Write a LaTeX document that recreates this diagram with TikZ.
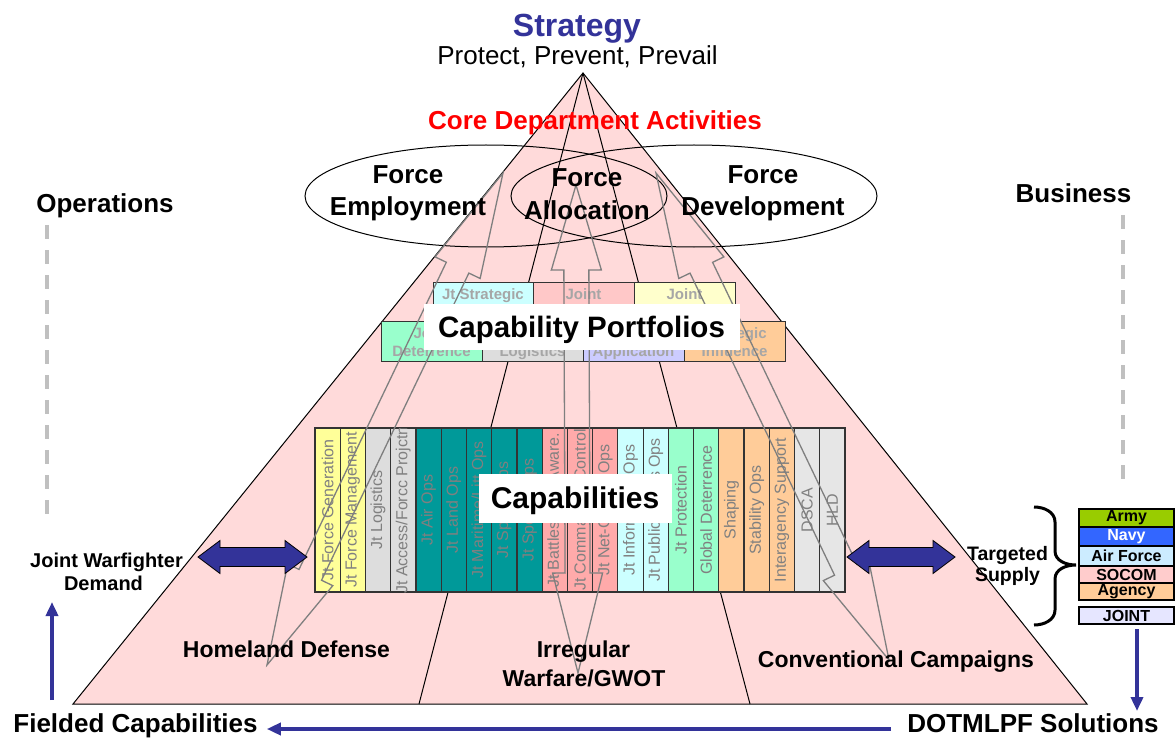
\documentclass[tikz,border=0pt]{standalone}
\usepackage{fontspec}
\setmainfont{Liberation Sans}
\usetikzlibrary{calc,arrows.meta,shapes.geometric}
\definecolor{stratblue}{HTML}{333399}
\definecolor{pyrpink}{HTML}{FFDADA}
\definecolor{tealbar}{HTML}{009999}
\definecolor{yelbar}{HTML}{FFFF99}
\definecolor{graybar}{HTML}{DDDDDD}
\definecolor{pinkbar}{HTML}{FFAAAA}
\definecolor{cyanbar}{HTML}{CCFFFF}
\definecolor{greenbar}{HTML}{99FFCC}
\definecolor{orangebar}{HTML}{FFCC99}
\definecolor{gray2bar}{HTML}{E6E6E6}
\definecolor{pfpink}{HTML}{FFC8C8}
\definecolor{pfyellow}{HTML}{FFFFCC}
\definecolor{pflav}{HTML}{CCCCFF}
\definecolor{armygreen}{HTML}{99CC00}
\definecolor{navyblue}{HTML}{3366FF}
\definecolor{afblue}{HTML}{CCECFF}
\definecolor{socompink}{HTML}{FFCCCC}
\definecolor{jointlav}{HTML}{E6E6FF}
\definecolor{bartext}{HTML}{808080}
\definecolor{pftext}{HTML}{A6A6A6}
\definecolor{dashgray}{HTML}{C0C0C0}
\definecolor{boltgray}{HTML}{7F7F7F}
\newcommand{\FS}[1]{\fontsize{#1}{#1}\selectfont}
\newcommand{\CapBar}[3]{%
  \pgfmathsetmacro\bx{315+#1*25.24}
  \node[capbar, fill=#2] (cb#1) at (\bx+12.62,510) {};
  \begin{scope}
    \clip (\bx,428) rectangle (\bx+25.24,592);
    \node[bartxt] (cbt#1) at (\bx+12.62,510) {#3};
  \end{scope}
}
\newcommand{\GrayBolt}[5]{%
  \coordinate (#1T) at (#2);
  \coordinate (#1B) at (#3);
  \coordinate (#1h) at ($(#1T)!#4!(#1B)$);
  \coordinate (#1k) at ($(#1B)!#5!(#1T)$);
  \draw[boltline] (#1T)
    -- ($(#1h)!25pt!90:(#1B)$) -- ($(#1h)!12.5pt!90:(#1B)$)
    -- ($(#1k)!12.5pt!-90:(#1T)$) -- ($(#1k)!25pt!-90:(#1T)$)
    -- (#1B)
    -- ($(#1k)!25pt!90:(#1T)$) -- ($(#1k)!12.5pt!90:(#1T)$)
    -- ($(#1h)!12.5pt!-90:(#1B)$) -- ($(#1h)!25pt!-90:(#1B)$) -- cycle;
}
\begin{document}
\begin{tikzpicture}[x=1pt,y=-1pt,
  lbl/.style={inner sep=0pt, anchor=base, font=\bfseries\FS{26}},
  capbar/.style={rectangle, draw=black!80, line width=1.2pt, minimum width=25.24pt, minimum height=164pt, inner sep=0pt},
  bartxt/.style={rotate=90, inner sep=0pt, text=bartext, font=\FS{16}},
  pfbox/.style={rectangle, draw=black!80, line width=1.2pt, inner sep=0pt, anchor=north west},
  pftxt/.style={inner sep=0pt, anchor=base, text=pftext, font=\bfseries\FS{15}},
  whitebox/.style={rectangle, fill=white, inner sep=0pt},
  boltline/.style={draw=boltgray, line width=1.3pt, line join=miter},
  legbox/.style={rectangle, draw=black, line width=1.3pt, minimum width=95pt, inner sep=0pt, font=\bfseries\FS{16}},
  bluearr/.style={draw=stratblue, line width=4pt, -{Triangle[length=14pt,width=12pt]}},
  blockarr/.style={fill=stratblue, draw=black, line width=0.8pt},
  dashline/.style={draw=dashgray, line width=4pt, dash pattern=on 14pt off 11pt}
]
\useasboundingbox (0,0) rectangle (1175,738);

% pyramid
\coordinate (apex) at (583,73);
\coordinate (bl) at (73,704);
\coordinate (br) at (1087,704);
\coordinate (d1) at (419,704);
\coordinate (d2) at (750,704);
\draw[fill=pyrpink, line width=1pt] (apex) -- (bl) -- (br) -- cycle;
\draw[line width=1pt] (apex) -- (d1);
\draw[line width=1pt] (apex) -- (d2);

% ellipses
\node[ellipse, draw, line width=1pt, minimum width=362pt, minimum height=102pt, inner sep=0pt] (fe) at (486,196) {};
\node[ellipse, draw, line width=1pt, minimum width=366pt, minimum height=102pt, inner sep=0pt] (fd) at (694,196) {};

% capability portfolios
\node[pfbox, fill=cyanbar, minimum width=100pt, minimum height=39pt] (p1) at (433,282) {};
\node[pfbox, fill=pfpink, minimum width=101pt, minimum height=39pt] (p2) at (533,282) {};
\node[pfbox, fill=pfyellow, minimum width=101pt, minimum height=39pt] (p3) at (634,282) {};
\node[pftxt] (p1t) at (483,299) {Jt Strategic};
\node[pftxt] (p2t) at (583.5,299) {Joint};
\node[pftxt] (p3t) at (684.5,299) {Joint};
\node[pfbox, fill=greenbar, minimum width=101pt, minimum height=40pt] (q1) at (381,321) {};
\node[pfbox, fill=graybar, minimum width=101pt, minimum height=40pt] (q2) at (482,321) {};
\node[pfbox, fill=pflav, minimum width=101pt, minimum height=40pt] (q3) at (583,321) {};
\node[pfbox, fill=orangebar, minimum width=101pt, minimum height=40pt] (q4) at (684,321) {};
\node[pftxt] (q1a) at (431.5,338) {Joint};
\node[pftxt] (q1b) at (431.5,356) {Deterrence};
\node[pftxt] (q2b) at (532.5,356) {Logistics};
\node[pftxt] (q3b) at (633.5,356) {Application};
\node[pftxt] (q4a) at (734.5,338) {Strategic};
\node[pftxt] (q4b) at (734.5,356) {Influence};

% capability bars
\CapBar{0}{yelbar}{Jt Force Generation}
\CapBar{1}{yelbar}{Jt Force Management}
\CapBar{2}{graybar}{Jt Logistics}
\CapBar{3}{graybar}{Jt Access/Forcc Projctn}
\CapBar{4}{tealbar}{Jt Air Ops}
\CapBar{5}{tealbar}{Jt Land Ops}
\CapBar{6}{tealbar}{Jt Maritime/Litt Ops}
\CapBar{7}{tealbar}{Jt Space Ops}
\CapBar{8}{tealbar}{Jt Special Ops}
\CapBar{9}{pinkbar}{Jt Battlespace Aware.}
\CapBar{10}{pinkbar}{Jt Command \& Control}
\CapBar{11}{pinkbar}{Jt Net-Centric Ops}
\CapBar{12}{cyanbar}{Jt Information Ops}
\CapBar{13}{cyanbar}{Jt Public Affairs Ops}
\CapBar{14}{greenbar}{Jt Protection}
\CapBar{15}{greenbar}{Global Deterrence}
\CapBar{16}{orangebar}{Shaping}
\CapBar{17}{orangebar}{Stability Ops}
\CapBar{18}{orangebar}{Interagency Support}
\CapBar{19}{gray2bar}{DSCA}
\CapBar{20}{gray2bar}{HLD}

% gray linkage arrows
\GrayBolt{ga}{503,173}{267,665}{105pt}{100pt}
\GrayBolt{gb}{576,185}{578,673}{85pt}{100pt}
\GrayBolt{gc}{656,173}{889,660}{105pt}{100pt}

% white label boxes
\node[whitebox, minimum width=316pt, minimum height=46pt] (cpbox) at (582,327) {};
\node[lbl, font=\bfseries\FS{29.5}] (cptxt) at (581.5,337) {Capability Portfolios};
\node[whitebox, minimum width=193pt, minimum height=49pt] (cbox) at (575.5,498.5) {};
\node[lbl, font=\bfseries\FS{30}] (ctxt) at (575,508) {Capabilities};

% top texts
\node[lbl, text=stratblue, font=\bfseries\FS{32}] (strat) at (577,37) {Strategy};
\node[lbl, font=\FS{26}] (ppp) at (577.5,65) {Protect, Prevent, Prevail};
\node[lbl, text=red] (core) at (595,130) {Core Department Activities};
\node[lbl] (fe1) at (408,184) {Force};
\node[lbl] (fe2) at (408,215) {Employment};
\node[lbl] (fa1) at (587,187) {Force};
\node[lbl] (fa2) at (587,220) {Allocation};
\node[lbl] (fd1) at (763,184) {Force};
\node[lbl] (fd2) at (763,215) {Development};
\node[lbl] (ops) at (105,212.5) {Operations};
\node[lbl] (bus) at (1073.5,203) {Business};

% dashed separators
\coordinate (opsA) at (47,225);
\coordinate (opsB) at (47,515);
\coordinate (busA) at (1123,215);
\coordinate (busB) at (1123,484);
\draw[dashline] (opsA) -- (opsB);
\draw[dashline] (busA) -- (busB);

% mission areas
\node[lbl, font=\bfseries\FS{23}] (hd) at (286.5,657) {Homeland Defense};
\node[lbl, font=\bfseries\FS{23}] (iw1) at (583.5,657) {Irregular};
\node[lbl, font=\bfseries\FS{23}] (iw2) at (584,686) {Warfare/GWOT};
\node[lbl, font=\bfseries\FS{23}] (cc) at (896,667) {Conventional Campaigns};

% demand / supply
\node[lbl, font=\bfseries\FS{20}] (jwd1) at (106.5,567) {Joint Warfighter};
\node[lbl, font=\bfseries\FS{20}] (jwd2) at (103.5,590) {Demand};
\node[lbl, font=\bfseries\FS{19.5}] (ts1) at (1007.5,560) {Targeted};
\node[lbl, font=\bfseries\FS{19.5}] (ts2) at (1007.5,581) {Supply};

\draw[blockarr] (198,557) -- (220,540.5) -- (220,547.5) -- (285,547.5) -- (285,540.5) -- (307,557)
  -- (285,573.5) -- (285,566.5) -- (220,566.5) -- (220,573.5) -- cycle;
\draw[blockarr] (847,557) -- (869,540.5) -- (869,547.5) -- (933,547.5) -- (933,540.5) -- (955,557)
  -- (933,573.5) -- (933,566.5) -- (869,566.5) -- (869,573.5) -- cycle;

% brace
\draw[line width=3pt] (1034,507) to[out=0,in=90] (1055,522) -- (1055,551)
  to[out=-90,in=180] (1076,565) to[out=180,in=90] (1055,579) -- (1055,610)
  to[out=-90,in=0] (1034,625);

% legend
\node[legbox, fill=armygreen, minimum height=18pt] (army) at (1126.5,518) {Army};
\node[legbox, fill=navyblue, minimum height=19pt, text=white] (navy) at (1126.5,536.5) {Navy};
\node[legbox, fill=afblue, minimum height=20pt] (af) at (1126.5,556) {Air Force};
\node[legbox, fill=socompink, minimum height=17pt] (socom) at (1126.5,574.5) {SOCOM};
\node[legbox, fill=orangebar, minimum height=17pt] (agency) at (1126.5,591.5) {Agency};
\node[legbox, fill=jointlav, minimum height=17pt] (jointb) at (1126.5,615.5) {JOINT};

% bottom texts and arrows
\node[lbl] (fc) at (135.5,732) {Fielded Capabilities};
\node[lbl] (dotm) at (1033,732) {DOTMLPF Solutions};
\coordinate (upA) at (52,700);
\coordinate (upB) at (52,602);
\draw[bluearr] (upA) -- (upB);
\draw[bluearr] ([xshift=-16pt]dotm.west |- 0,729) -- ([xshift=9pt]fc.east |- 0,729);
\coordinate (dnA) at (1137,629);
\coordinate (dnB) at (1137,711);
\draw[bluearr] (dnA) -- (dnB);
\end{tikzpicture}
\end{document}
